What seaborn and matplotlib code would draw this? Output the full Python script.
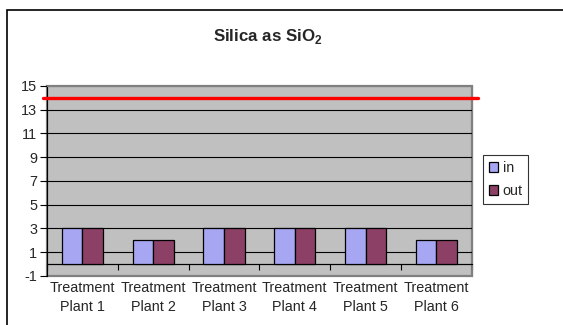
import numpy as np
import pandas as pd
import seaborn as sns
import matplotlib.pyplot as plt
from matplotlib.patches import Rectangle

# data
plants = ["Treatment\nPlant 1", "Treatment\nPlant 2", "Treatment\nPlant 3",
          "Treatment\nPlant 4", "Treatment\nPlant 5", "Treatment\nPlant 6"]
in_vals = [3, 2, 3, 3, 3, 2]
out_vals = [3, 2, 3, 3, 3, 2]
limit = 14
y_ticks = list(range(-1, 16, 2))

sns.set_theme(style="white")
plt.rcParams['font.family'] = ['Liberation Sans', 'DejaVu Sans']
plt.rcParams['mathtext.fontset'] = 'custom'
plt.rcParams['mathtext.rm'] = 'Liberation Sans'
plt.rcParams['mathtext.bf'] = 'Liberation Sans:bold'
plt.rcParams['axes.unicode_minus'] = False

df = pd.DataFrame({
    'plant': plants * 2,
    'value': in_vals + out_vals,
    'series': ['in'] * len(plants) + ['out'] * len(plants),
})

fig = plt.figure(figsize=(5.63, 3.25), dpi=100)
ax = fig.add_axes([0.0835, 0.1508, 0.7545, 0.5846])
ax.set_facecolor('#C0C0C0')

sns.barplot(data=df, x='plant', y='value', hue='series',
            palette=['#9999FF', '#993366'], width=0.58, gap=0,
            edgecolor='black', linewidth=0.9, ax=ax, zorder=3)

ax.set_ylim(-1, 15)
ax.set_xlim(-0.5, len(plants) - 0.5)
ax.set_yticks(y_ticks)
ax.set_yticklabels([str(t) for t in y_ticks])
ax.tick_params(axis='y', direction='out', length=5, width=0.8, color='black',
               labelsize=10.4, pad=2, left=True)
for t in y_ticks[1:-1]:
    ax.axhline(t, color='black', lw=0.8, zorder=1)
ax.axhline(0, color='black', lw=0.8, zorder=1)

# category axis crosses at 0
ax.spines['bottom'].set_position(('data', 0))
ax.spines['bottom'].set_color('black')
ax.spines['bottom'].set_linewidth(0.8)
ax.set_xticks(np.arange(-0.5, len(plants)), minor=True)
ax.tick_params(axis='x', which='minor', direction='out', length=4, width=0.8,
               color='black', bottom=True)
ax.tick_params(axis='x', which='major', length=0, labelsize=10.4, pad=12)
for lab in ax.get_xticklabels():
    lab.set_linespacing(1.5)

ax.spines['left'].set_color('black')
ax.spines['left'].set_linewidth(0.8)
for s in ['top', 'right']:
    ax.spines[s].set_color('#808080')
    ax.spines[s].set_linewidth(0.8)
ax.patch.set_edgecolor('#808080')
ax.patch.set_linewidth(1.6)

ax.axhline(limit, xmin=-0.01, xmax=1.015, color='#FF0000', lw=2.4,
           clip_on=False, zorder=4)

ax.set_xlabel('')
ax.set_ylabel('')

leg = ax.legend(loc='upper left', bbox_to_anchor=(0.858, 0.523),
                bbox_transform=fig.transFigure, frameon=True, fontsize=10.4,
                handlelength=0.65, handleheight=0.65, handletextpad=0.3,
                borderpad=0.4, borderaxespad=0, labelspacing=0.65,
                fancybox=False)
leg.get_frame().set_edgecolor('black')
leg.get_frame().set_linewidth(0.8)

fig.text(0.475, 0.888, r"Silica as SiO$_\mathbf{2}$", ha='center', va='center',
         fontsize=12.2, fontweight='bold')

fig.patches.append(Rectangle((7 / 563, -0.2), 1.2, 0.2 + 1 - 10 / 325,
                             transform=fig.transFigure, fill=False,
                             edgecolor='black', lw=1.2))

fig.savefig('out.png', dpi=100)
